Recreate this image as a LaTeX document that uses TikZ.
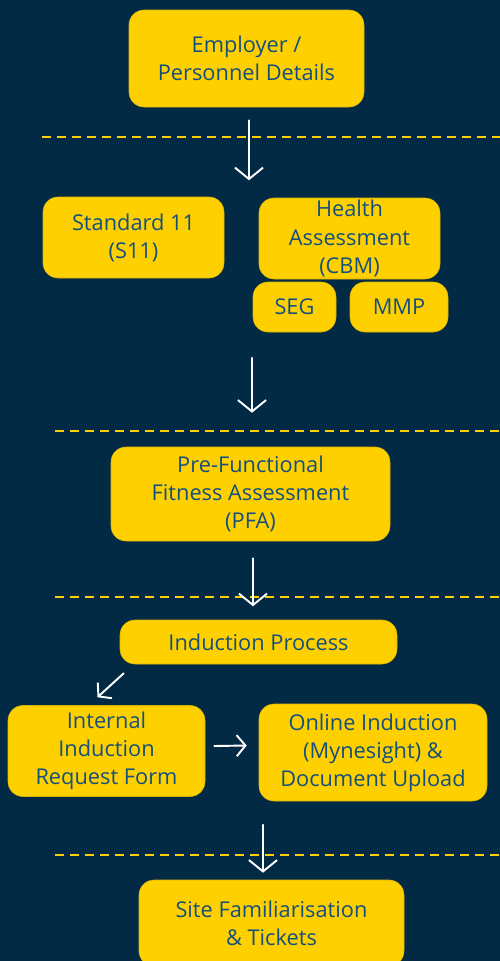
\documentclass[tikz,border=0pt]{standalone}
\usepackage{fontspec}
\setmainfont{Open Sans}
\usetikzlibrary{arrows.meta,calc}

\definecolor{navy}{RGB}{3,42,69}
\definecolor{gold}{RGB}{255,208,0}
\definecolor{inkblue}{RGB}{20,80,124}

\newdimen\unitpx
\unitpx=0.02cm

\tikzset{
  stage/.style={fill=gold, draw=gold!85!black, line width=0.3pt, rounded corners=15\unitpx,
    align=center, inner sep=0pt, text=inkblue, font=\fontsize{12.4}{16}\selectfont},
  flow/.style={draw=white, line width=1.1pt, line cap=round,
    -{Straight Barb[length=6.5pt,width=16pt,line width=1.1pt]}},
  smallflow/.style={draw=white, line width=1.1pt, line cap=round,
    -{Straight Barb[length=5pt,width=12pt,line width=1.1pt]}},
  divider/.style={draw=gold, line width=1.1pt, dash pattern=on 9\unitpx off 6\unitpx}
}

\begin{document}
\begin{tikzpicture}[x=0.02cm, y=-0.02cm]
  \useasboundingbox (0,0) rectangle (500,961);
  \fill[navy] (0,0) rectangle (500,961);

  % stages
  \node[stage, minimum width=235\unitpx, minimum height=97\unitpx] (emp) at (246.5,58.5) {Employer /\\Personnel Details};
  \node[stage, minimum width=181\unitpx, minimum height=81\unitpx] (s11) at (133.5,237.5) {Standard 11\\(S11)};
  \node[stage, minimum width=181\unitpx, minimum height=81\unitpx] (cbm) at (349.5,238.5) {Health\\Assessment\\(CBM)};
  \node[stage, minimum width=83\unitpx, minimum height=50\unitpx] (seg) at (294.5,307) {SEG};
  \node[stage, minimum width=98\unitpx, minimum height=50\unitpx] (mmp) at (399,307) {MMP};
  \node[stage, minimum width=279\unitpx, minimum height=94\unitpx] (pfa) at (250.5,494) {Pre-Functional\\Fitness Assessment\\(PFA)};
  \node[stage, minimum width=277\unitpx, minimum height=44\unitpx] (ind) at (258.5,642) {Induction Process};
  \node[stage, minimum width=197\unitpx, minimum height=91\unitpx] (iirf) at (106.5,751) {Internal\\Induction\\Request Form};
  \node[stage, minimum width=228\unitpx, minimum height=97\unitpx] (onl) at (373,752.5) {Online Induction\\(Mynesight) \&\\Document Upload};
  \node[stage, minimum width=265\unitpx, minimum height=86\unitpx] (site) at (271.5,923) {Site Familiarisation\\\& Tickets};

  % dividers
  \draw[divider] (42,137) -- (500,137);
  \draw[divider] (55,431) -- (500,431);
  \draw[divider] (55,597) -- (500,597);
  \draw[divider] (55,855) -- (500,855);

  % arrow ends
  \coordinate (a1) at ($(emp.south)+(2.5,13)$);
  \coordinate (b1) at ($(emp.south)+(2.5,73)$);
  \coordinate (a2) at ($(pfa.north)+(1.5,-89)$);
  \coordinate (b2) at ($(pfa.north)+(1.5,-34)$);
  \coordinate (a3) at ($(pfa.south)+(2.5,17)$);
  \coordinate (b3) at ($(pfa.south)+(2.5,65)$);
  \coordinate (a4) at ($(ind.south west)+(4,9)$);
  \coordinate (b4) at ($(iirf.north)+(-9,-8)$);
  \coordinate (a5) at ($(iirf.east)+(9,-5)$);
  \coordinate (b5) at ($(onl.west)+(-12,-7)$);
  \coordinate (a6) at ($(site.north)+(-8.5,-55)$);
  \coordinate (b6) at ($(site.north)+(-8.5,-7)$);

  \draw[flow] (a1) -- (b1);
  \draw[flow] (a2) -- (b2);
  \draw[flow] (a3) -- (b3);
  \draw[smallflow] (a4) -- (b4);
  \draw[smallflow] (a5) -- (b5);
  \draw[flow] (a6) -- (b6);
\end{tikzpicture}
\end{document}
